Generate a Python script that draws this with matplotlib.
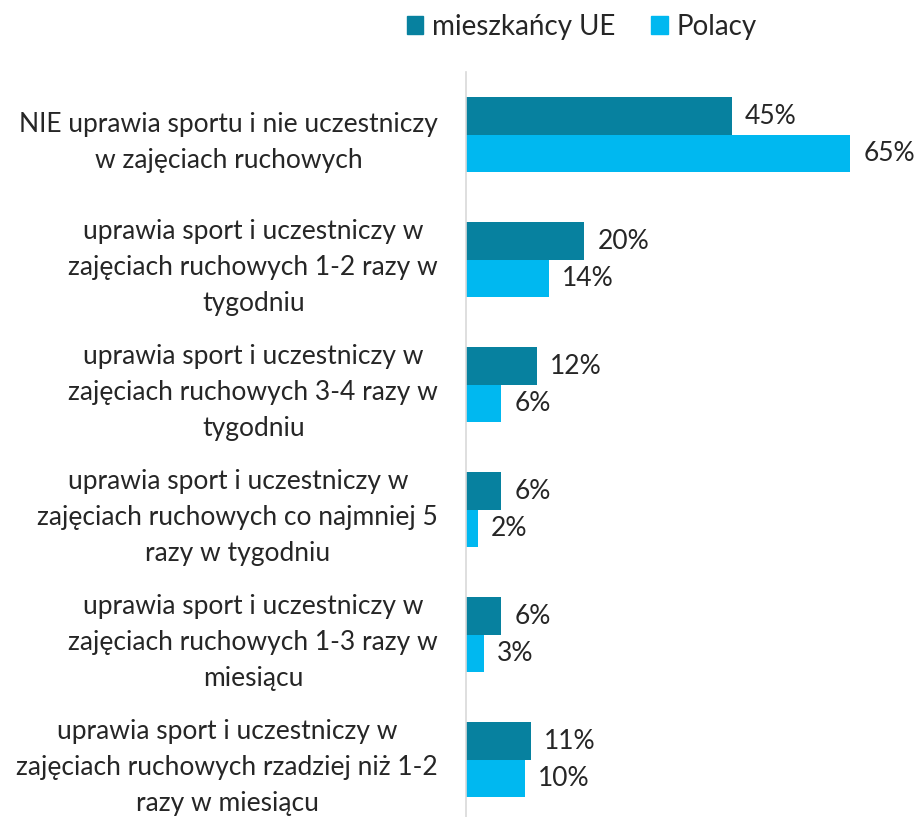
import matplotlib
matplotlib.use("Agg")
import matplotlib.pyplot as plt
import numpy as np
from matplotlib.patches import Patch

plt.rcParams['font.family'] = ['Lato', 'DejaVu Sans']

categories = [
    "NIE uprawia sportu i nie uczestniczy\nw zajęciach ruchowych",
    "uprawia sport i uczestniczy w\nzajęciach ruchowych 1-2 razy w\ntygodniu",
    "uprawia sport i uczestniczy w\nzajęciach ruchowych 3-4 razy w\ntygodniu",
    "uprawia sport i uczestniczy w\nzajęciach ruchowych co najmniej 5\nrazy w tygodniu",
    "uprawia sport i uczestniczy w\nzajęciach ruchowych 1-3 razy w\nmiesiącu",
    "uprawia sport i uczestniczy w\nzajęciach ruchowych rzadziej niż 1-2\nrazy w miesiącu",
]
series_names = ["mieszkańcy UE", "Polacy"]
ue_values = [45, 20, 12, 6, 6, 11]
pl_values = [65, 14, 6, 2, 3, 10]
colors = ["#07819F", "#00B8F0"]

fig = plt.figure(figsize=(9.2, 8.17), dpi=100)
ax = fig.add_axes([0.5065, -0.0067, 0.45, 0.918])

y = np.arange(len(categories))
h = 0.3
b1 = ax.barh(y - h/2, ue_values, height=h, color=colors[0])
b2 = ax.barh(y + h/2, pl_values, height=h, color=colors[1])
for bars, vals in ((b1, ue_values), (b2, pl_values)):
    for bar, v in zip(bars, vals):
        ax.annotate(f"{v}%", (bar.get_width(), bar.get_y() + bar.get_height()/2),
                    xytext=(13, 0), textcoords="offset pixels",
                    va="center", ha="left", fontsize=19, color="#262626")

ax.set_xlim(0, 70)
ax.set_ylim(len(categories) - 0.5, -0.5)
ax.set_yticks(y)
ax.set_yticklabels(categories, fontsize=19, color="#262626",
                   multialignment="center", linespacing=1.55)
ax.tick_params(axis='y', length=0, pad=20)
ax.set_xticks([])
for s in ["top", "right", "bottom"]:
    ax.spines[s].set_visible(False)
ax.spines["left"].set_color("#D9D9D9")
ax.spines["left"].set_linewidth(1.2)

handles = [Patch(color=colors[0]), Patch(color=colors[1])]
fig.legend(handles, series_names, loc="center", bbox_to_anchor=(0.632, 0.967),
           ncol=2, frameon=False, fontsize=20, handlelength=0.6, handleheight=0.6,
           handletextpad=0.3, columnspacing=1.3, labelcolor="#262626")

fig.savefig("out.png", dpi=100)
